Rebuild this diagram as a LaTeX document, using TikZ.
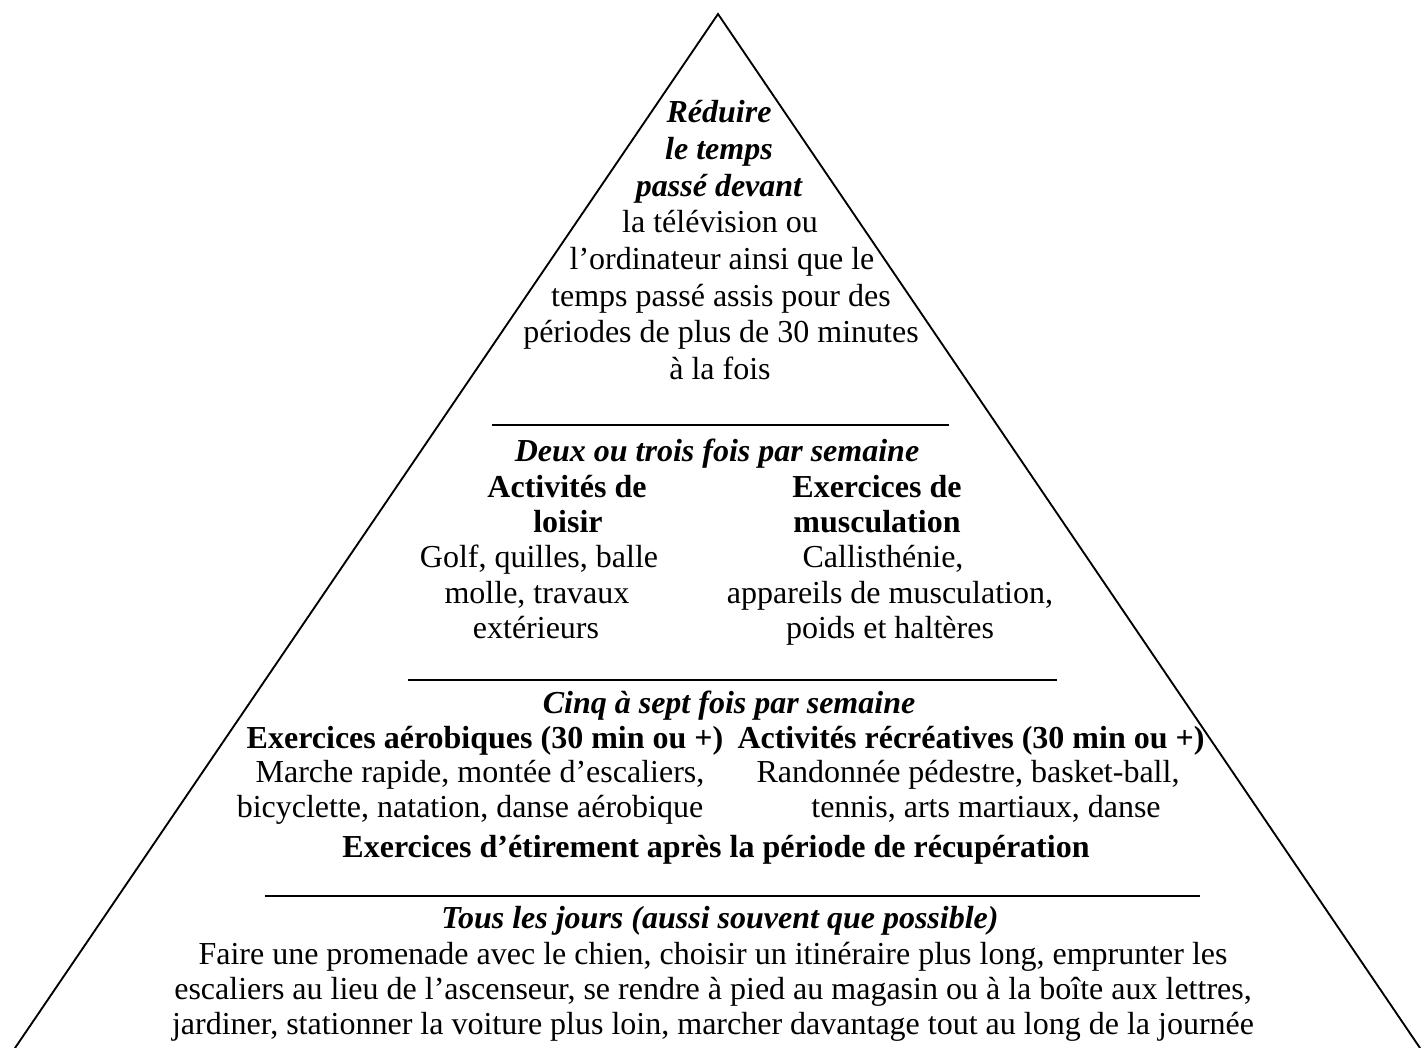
\documentclass[tikz,border=0pt]{standalone}
\usepackage{fontspec}
\setmainfont{Liberation Serif}
\begin{document}
\begin{tikzpicture}[x=0.75pt,y=-0.75pt,
  txt/.style={anchor=base,inner sep=0pt,font=\fontsize{24}{28}\selectfont},
  bi/.style={anchor=base,inner sep=0pt,font=\fontsize{24}{28}\selectfont\bfseries\itshape},
  bd/.style={anchor=base,inner sep=0pt,font=\fontsize{24}{28}\selectfont\bfseries},
  edge/.style={line width=1.4pt,line cap=round},
  sep/.style={line width=2pt}]
\useasboundingbox (0,0) rectangle (1421,1048);
% triangle
\coordinate (apex) at (718,14);
\coordinate (bl) at (15,1048);
\coordinate (br) at (1420,1048);
\draw[edge] (bl) -- (apex) -- (br);
% separators
\coordinate (s1a) at (492,425); \coordinate (s1b) at (949,425);
\coordinate (s2a) at (408,680); \coordinate (s2b) at (1057,680);
\coordinate (s3a) at (265,896); \coordinate (s3b) at (1200,896);
\draw[sep] (s1a) -- (s1b);
\draw[sep] (s2a) -- (s2b);
\draw[sep] (s3a) -- (s3b);
% top block
\node[bi] (t1) at (719,123) {Réduire};
\node[bi] (t2) at (719,160) {le temps};
\node[bi] (t3) at (719,197) {passé devant};
\node[txt] (t4) at (720,233) {la télévision ou};
\node[txt] (t5) at (722,270) {l’ordinateur ainsi que le};
\node[txt] (t6) at (721,307) {temps passé assis pour des};
\node[txt] (t7) at (721,343) {périodes de plus de 30 minutes};
\node[txt] (t8) at (720,380) {à la fois};
% second block
\node[bi] (d0) at (717,462) {Deux ou trois fois par semaine};
\node[bd] (l1) at (567,497) {Activités de};
\node[bd] (l2) at (568,532) {loisir};
\node[txt] (l3) at (539,567) {Golf, quilles, balle};
\node[txt] (l4) at (537,603) {molle, travaux};
\node[txt] (l5) at (536,638) {extérieurs};
\node[bd] (r1) at (877,497) {Exercices de};
\node[bd] (r2) at (877,532) {musculation};
\node[txt] (r3) at (883,567) {Callisthénie,};
\node[txt] (r4) at (890,603) {appareils de musculation,};
\node[txt] (r5) at (890,638) {poids et haltères};
% third block
\node[bi] (c0) at (729,713) {Cinq à sept fois par semaine};
\node[bd] (a1) at (485,748) {Exercices aérobiques (30 min ou +)};
\node[txt] (a2) at (480,782) {Marche rapide, montée d’escaliers,};
\node[txt] (a3) at (470,817) {bicyclette, natation, danse aérobique};
\node[bd] (b1) at (971,748) {Activités récréatives (30 min ou +)};
\node[txt] (b2) at (968,782) {Randonnée pédestre, basket-ball,};
\node[txt] (b3) at (986,817) {tennis, arts martiaux, danse};
\node[bd] (e0) at (716,857) {Exercices d’étirement après la période de récupération};
% fourth block
\node[bi] (j0) at (720,928) {Tous les jours (aussi souvent que possible)};
\node[txt] (j1) at (713,964) {Faire une promenade avec le chien, choisir un itinéraire plus long, emprunter les};
\node[txt] (j2) at (713,999) {escaliers au lieu de l’ascenseur, se rendre à pied au magasin ou à la boîte aux lettres,};
\node[txt] (j3) at (713,1034) {jardiner, stationner la voiture plus loin, marcher davantage tout au long de la journée};
\end{tikzpicture}
\end{document}
